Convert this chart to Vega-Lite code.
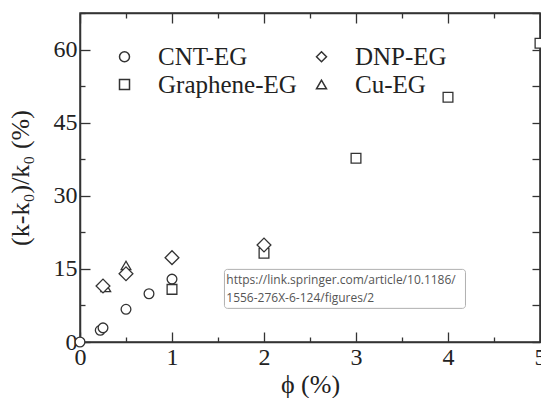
{
  "$schema": "https://vega.github.io/schema/vega-lite/v6.json",
  "autosize": "none",
  "padding": {"left": 80, "top": 13, "right": 1, "bottom": 56},
  "width": 460,
  "height": 329,
  "background": "white",
  "datasets": {
    "pts": [
      {"material": "CNT-EG", "phi": 0, "k": 0},
      {"material": "CNT-EG", "phi": 0.22, "k": 2.4},
      {"material": "CNT-EG", "phi": 0.25, "k": 2.9},
      {"material": "CNT-EG", "phi": 0.5, "k": 6.7},
      {"material": "CNT-EG", "phi": 0.75, "k": 9.9},
      {"material": "CNT-EG", "phi": 1, "k": 12.9},
      {"material": "Graphene-EG", "phi": 1, "k": 10.8},
      {"material": "Graphene-EG", "phi": 2, "k": 18.2},
      {"material": "Graphene-EG", "phi": 3, "k": 37.7},
      {"material": "Graphene-EG", "phi": 4, "k": 50.2},
      {"material": "Graphene-EG", "phi": 5, "k": 61.3},
      {"material": "Cu-EG", "phi": 0.28, "k": 11.2},
      {"material": "Cu-EG", "phi": 0.5, "k": 15.7},
      {"material": "DNP-EG", "phi": 0.25, "k": 11.5},
      {"material": "DNP-EG", "phi": 0.5, "k": 14.0},
      {"material": "DNP-EG", "phi": 1, "k": 17.3},
      {"material": "DNP-EG", "phi": 2, "k": 19.9}
    ]
  },
  "layer": [
    {
      "data": {"name": "pts"},
      "transform": [{"filter": "datum.material !== 'DNP-EG'"}],
      "mark": {"type": "point", "fill": "white", "stroke": "#333", "strokeWidth": 1.3, "size": 95, "fillOpacity": 1, "strokeOpacity": 1},
      "encoding": {
        "x": {
          "field": "phi", "type": "quantitative",
          "scale": {"domain": [0, 5], "nice": false, "zero": false},
          "axis": {
            "orient": "bottom",
            "title": "ϕ (%)",
            "values": [0, 0.5, 1, 1.5, 2, 2.5, 3, 3.5, 4, 4.5, 5],
            "format": ".0f",
            "labelExpr": "datum.value % 1 === 0 ? datum.label : ''",
            "tickSize": {"condition": {"test": "datum.value % 1 === 0", "value": -10}, "value": -5},
            "labelPadding": 13,
            "titlePadding": -3
          }
        },
        "y": {
          "field": "k", "type": "quantitative",
          "scale": {"domain": [0, 67.5], "nice": false, "zero": false},
          "axis": {
            "orient": "left",
            "title": "(k-k₀)/k₀ (%)",
            "values": [0, 7.5, 15, 22.5, 30, 37.5, 45, 52.5, 60, 67.5],
            "format": ".0f",
            "labelExpr": "datum.value % 15 === 0 ? datum.label : ''",
            "tickSize": {"condition": {"test": "datum.value % 15 === 0", "value": -10}, "value": -5},
            "labelPadding": 13,
            "titlePadding": 20
          }
        },
        "shape": {
          "field": "material", "type": "nominal",
          "scale": {"domain": ["CNT-EG", "Graphene-EG", "DNP-EG", "Cu-EG"], "range": ["circle", "square", "diamond", "triangle-up"]},
          "legend": {
            "orient": "none", "legendX": 32, "legendY": 31, "title": null, "columns": 2
          }
        }
      }
    },
    {
      "data": {"name": "pts"},
      "transform": [{"filter": "datum.material === 'DNP-EG'"}],
      "mark": {"type": "point", "fill": "white", "stroke": "#333", "strokeWidth": 1.3, "size": 190, "fillOpacity": 1, "strokeOpacity": 1},
      "encoding": {
        "x": {
          "field": "phi", "type": "quantitative",
          "axis": {
            "orient": "top", "title": null, "labels": false,
            "values": [0, 0.5, 1, 1.5, 2, 2.5, 3, 3.5, 4, 4.5, 5],
            "tickSize": {"condition": {"test": "datum.value % 1 === 0", "value": -10}, "value": -5}
          }
        },
        "y": {
          "field": "k", "type": "quantitative",
          "axis": {
            "orient": "right", "title": null, "labels": false,
            "values": [0, 7.5, 15, 22.5, 30, 37.5, 45, 52.5, 60, 67.5],
            "tickSize": -8
          }
        },
        "shape": {"field": "material", "type": "nominal"}
      }
    },
    {
      "data": {"values": [{"x1": 1.57, "x2": 4.19, "y1": 14.9, "y2": 6.9}]},
      "mark": {"type": "rect", "fill": "white", "stroke": "#b0b0b0", "strokeWidth": 1, "cornerRadius": 3},
      "encoding": {
        "x": {"field": "x1", "type": "quantitative", "axis": null},
        "x2": {"field": "x2"},
        "y": {"field": "y1", "type": "quantitative", "axis": null},
        "y2": {"field": "y2"}
      }
    },
    {
      "data": {"values": [
        {"t": "https://link.springer.com/article/10.1186/", "tx": 1.59, "ty": 12.7},
        {"t": "1556-276X-6-124/figures/2", "tx": 1.59, "ty": 9.0}
      ]},
      "mark": {"type": "text", "align": "left", "baseline": "middle", "font": "Open Sans", "fontSize": 12, "fill": "#555"},
      "encoding": {
        "x": {"field": "tx", "type": "quantitative", "axis": null},
        "y": {"field": "ty", "type": "quantitative", "axis": null},
        "text": {"field": "t"}
      }
    }
  ],
  "resolve": {"axis": {"x": "independent", "y": "independent"}},
  "config": {
    "view": {"stroke": "#333", "strokeWidth": 1.5},
    "axis": {
      "grid": false,
      "domainColor": "#333", "domainWidth": 1.5,
      "tickColor": "#333", "tickWidth": 1.3,
      "labelFont": "Liberation Serif", "labelFontSize": 24, "labelColor": "#222",
      "titleFont": "Liberation Serif", "titleFontSize": 26, "titleFontWeight": "normal", "titleColor": "#222",
      "labelFlush": false, "labelOverlap": false
    },
    "legend": {
      "labelFont": "Liberation Serif", "labelFontSize": 25, "labelColor": "#222",
      "labelOffset": 21, "columnPadding": 12, "rowPadding": 2, "padding": 0
    }
  }
}
